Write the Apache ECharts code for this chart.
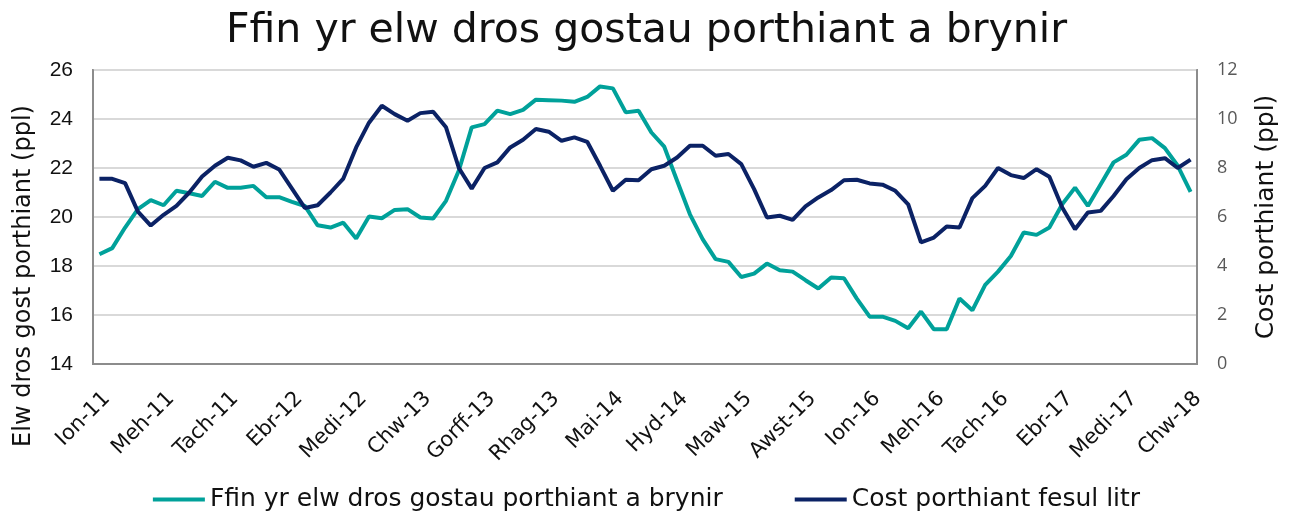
<!DOCTYPE html>
<html>
<head>
    <meta charset="UTF-8">
    <title>Ffin yr elw</title>
    <script src="https://cdn.jsdelivr.net/npm/echarts@6/dist/echarts.min.js"></script>
    <style>
        html, body { margin: 0; padding: 0; background: #fff; }
        #chart { width: 1293px; height: 516px; }
    </style>
</head>
<body>
    <div id="chart"></div>
    <script>
        // misoedd Ion-11 .. Chw-18
        var monthNames = ['Ion', 'Chw', 'Maw', 'Ebr', 'Mai', 'Meh', 'Gorff', 'Awst', 'Medi', 'Hyd', 'Tach', 'Rhag'];
        var months = [];
        for (var y = 11; y <= 18; y++) {
            for (var m = 0; m < 12; m++) {
                if (y === 18 && m > 1) break;
                months.push(monthNames[m] + '-' + y);
            }
        }

        // Ffin yr elw dros gostau porthiant (ppl), echel chwith
        var margin = [
            18.48, 18.73, 19.57, 20.32, 20.69, 20.48, 21.07, 20.97, 20.86, 21.44,
            21.19, 21.19, 21.27, 20.81, 20.81, 20.62, 20.45, 19.66, 19.57, 19.77,
            19.12, 20.02, 19.95, 20.29, 20.32, 19.98, 19.94, 20.66, 21.9, 23.66,
            23.79, 24.34, 24.2, 24.37, 24.79, 24.77, 24.75, 24.7, 24.9, 25.33,
            25.25, 24.27, 24.34, 23.45, 22.87, 21.48, 20.11, 19.09, 18.28, 18.17,
            17.55, 17.69, 18.1, 17.83, 17.77, 17.42, 17.08, 17.53, 17.5, 16.67,
            15.93, 15.93, 15.76, 15.46, 16.14, 15.42, 15.42, 16.67, 16.19, 17.23,
            17.77, 18.41, 19.37, 19.27, 19.57, 20.52, 21.2, 20.45, 21.34, 22.23,
            22.54, 23.15, 23.22, 22.81, 22.09, 21.03
        ];

        // Cost porthiant fesul litr (ppl), echel dde
        var feedCost = [
            7.56, 7.56, 7.38, 6.22, 5.65, 6.09, 6.45, 7.0, 7.65, 8.09,
            8.42, 8.31, 8.05, 8.21, 7.94, 7.16, 6.37, 6.48, 7.0, 7.57,
            8.84, 9.85, 10.54, 10.2, 9.93, 10.24, 10.3, 9.66, 8.0, 7.16,
            8.0, 8.23, 8.84, 9.15, 9.59, 9.48, 9.11, 9.25, 9.07, 8.09,
            7.07, 7.52, 7.5, 7.95, 8.09, 8.43, 8.91, 8.91, 8.5, 8.57,
            8.16, 7.14, 5.98, 6.05, 5.88, 6.43, 6.8, 7.1, 7.5, 7.52,
            7.37, 7.32, 7.07, 6.52, 4.96, 5.16, 5.61, 5.57, 6.77, 7.27,
            8.0, 7.71, 7.59, 7.95, 7.64, 6.39, 5.5, 6.18, 6.25, 6.86,
            7.54, 8.0, 8.32, 8.4, 8.0, 8.34
        ];

        var teal = '#00a19a';
        var navy = '#0b2265';
        var frame = '#8c8c8c';
        var font = 'DejaVu Sans';

        var chart = echarts.init(document.getElementById('chart'), null, { renderer: 'canvas' });
        chart.setOption({
            animation: false,
            title: {
                text: 'Ffin yr elw dros gostau porthiant a brynir',
                left: 'center',
                top: 6,
                textStyle: { fontFamily: font, fontWeight: 'normal', fontSize: 41, color: '#111' }
            },
            legend: {
                top: 487,
                left: 'center',
                padding: 0,
                icon: 'rect',
                itemWidth: 52,
                itemHeight: 4,
                itemGap: 72,
                textStyle: { fontFamily: font, fontSize: 25, color: '#111' },
                data: ['Ffin yr elw dros gostau porthiant a brynir', 'Cost porthiant fesul litr']
            },
            grid: {
                left: 93, right: 96, top: 70, bottom: 152,
                show: true, borderColor: frame, borderWidth: 2
            },
            xAxis: {
                type: 'category',
                data: months,
                boundaryGap: true,
                axisLine: { lineStyle: { color: frame, width: 2 } },
                axisTick: { interval: 4, length: 6, lineStyle: { color: '#d0d0d0', width: 2 } },
                axisLabel: {
                    interval: 4, rotate: 45, margin: 24,
                    verticalAlign: 'top',
                    fontFamily: font, fontSize: 21, color: '#111'
                }
            },
            yAxis: [{
                type: 'value',
                min: 14, max: 26, interval: 2,
                name: 'Elw dros gost porthiant (ppl)',
                nameLocation: 'middle',
                nameGap: 57,
                nameTextStyle: { fontFamily: font, fontSize: 24, color: '#111', padding: [0, 118, 0, 0] },
                axisLine: { show: true, lineStyle: { color: frame, width: 2 } },
                splitLine: { lineStyle: { color: '#d9d9d9', width: 2 } },
                axisLabel: { fontFamily: 'Liberation Sans', fontSize: 21, color: '#111', margin: 20 }
            }, {
                type: 'value',
                min: 0, max: 12, interval: 2,
                position: 'right',
                name: 'Cost porthiant (ppl)',
                nameLocation: 'middle',
                nameRotate: 90,
                nameGap: 57,
                nameTextStyle: { fontFamily: font, fontSize: 25, color: '#111' },
                axisLine: { show: true, lineStyle: { color: frame, width: 2 } },
                splitLine: { show: false },
                axisLabel: { fontFamily: 'Open Sans', fontSize: 18, color: '#595959', margin: 20 }
            }],
            series: [{
                name: 'Ffin yr elw dros gostau porthiant a brynir',
                type: 'line',
                yAxisIndex: 0,
                data: margin,
                showSymbol: false,
                lineStyle: { color: teal, width: 4 },
                itemStyle: { color: teal }
            }, {
                name: 'Cost porthiant fesul litr',
                type: 'line',
                yAxisIndex: 1,
                data: feedCost,
                showSymbol: false,
                lineStyle: { color: navy, width: 4 },
                itemStyle: { color: navy }
            }]
        });
    </script>
</body>
</html>
